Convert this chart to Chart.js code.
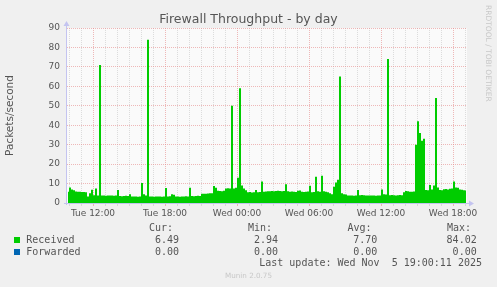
<!DOCTYPE html>
<html>
<head>
<meta charset="utf-8">
<script src="https://cdn.jsdelivr.net/npm/chart.js@4.4.1/dist/chart.umd.min.js"></script>
<style>
  html, body { margin: 0; padding: 0; background: #f0f0f0; }
  #wrap { position: relative; width: 497px; height: 287px; overflow: hidden; }
  #title { position: absolute; left: 0; top: 11px; width: 497px; text-align: center; font-family: "DejaVu Sans", sans-serif; font-size: 12.5px; line-height: 15px; color: #555; }
  .t { position: absolute; white-space: pre; color: #555; font-family: "DejaVu Sans Mono", monospace; font-size: 10px; line-height: 12px; }
  .sq { position: absolute; width: 6px; height: 6px; }
  #rrd { position: absolute; left: 484px; top: 5px; writing-mode: vertical-rl; font-family: "DejaVu Sans", sans-serif; font-size: 7.5px; color: #c8c8c8; white-space: pre; }
  #munin { position: absolute; left: 0; width: 497px; top: 271px; text-align: center; font-family: "DejaVu Sans", sans-serif; font-size: 7.2px; color: #c8c8c8; }
</style>
</head>
<body>
<div id="wrap">
  <canvas id="fw" width="497" height="287"></canvas>
  <div id="title">Firewall Throughput - by day</div>
  <div id="rrd">RRDTOOL / TOBI OETIKER</div>
  <div id="legend"></div>
  <div id="munin">Munin 2.0.75</div>
</div>
<script>
// packets/second, one value per 10 minutes, starting Tue 09:50
var received = [
  5.8, 8.0, 7.0, 6.5, 5.9, 5.8, 5.8, 5.7, 5.6, 5.5,
  3.3, 5.0, 6.8, 4.0, 7.5, 3.8, 71, 3.9, 3.8, 3.7,
  3.8, 3.9, 3.8, 3.7, 3.8, 6.7, 3.6, 3.5, 3.6, 3.7,
  3.6, 4.5, 3.3, 3.4, 3.3, 3.2, 3.4, 10.3, 4.5, 3.8,
  84.02, 3.4, 3.3, 3.2, 3.3, 3.4, 3.3, 3.2, 3.3, 7.7,
  3.3, 3.5, 4.5, 4.2, 3.4, 3.3, 3.2, 3.4, 3.3, 3.5,
  3.4, 7.9, 3.6, 3.5, 3.6, 3.7, 3.6, 4.7, 4.8, 4.8,
  4.9, 5.0, 5.0, 8.7, 7.8, 6.3, 6.2, 6.0, 6.3, 7.4,
  7.6, 7.5, 50, 7.5, 7.8, 13, 59, 9.0, 7.5, 6.5,
  5.5, 5.6, 5.4, 5.5, 6.7, 5.5, 5.6, 11, 5.8, 5.9,
  6.0, 6.1, 6.2, 6.1, 6.2, 6.3, 6.2, 6.1, 6.2, 9.6,
  6.0, 5.8, 5.9, 5.8, 5.7, 6.3, 6.4, 5.8, 5.7, 5.8,
  5.9, 8.9, 5.5, 5.6, 13.5, 6.0, 5.8, 14, 6.0, 5.8,
  5.5, 5.0, 4.5, 8.4, 10.5, 12, 65, 5.0, 4.5, 4.4,
  3.9, 3.8, 3.8, 3.7, 3.8, 6.7, 4.0, 4.1, 4.0, 3.9,
  3.8, 3.8, 3.9, 3.8, 3.7, 3.8, 3.9, 7.0, 4.5, 4.4,
  74, 4.0, 4.1, 4.0, 3.9, 4.0, 4.1, 4.0, 5.5, 6.2,
  6.0, 5.8, 5.8, 5.9, 30, 42, 36, 32, 33, 6.7,
  6.5, 9.3, 7.0, 9.0, 54, 8.0, 6.7, 6.6, 7.1, 7.2,
  7.0, 7.3, 7.5, 11, 8.0, 7.9, 7.0, 6.8, 6.6, 6.49
];
var startHour = 9 + 50 / 60;   // hours after Tue 00:00
var stepHours = 10 / 60;

var xTickHours = [12, 18, 24, 30, 36, 42];
var xTickLabels = ['Tue 12:00', 'Tue 18:00', 'Wed 00:00', 'Wed 06:00', 'Wed 12:00', 'Wed 18:00'];
var yMax = 90;

var legendRows = [
  { name: 'Received', color: '#00cc00', cur: '6.49', min: '2.94', avg: '7.70', max: '84.02' },
  { name: 'Forwarded', color: '#0066b3', cur: '0.00', min: '0.00', avg: '0.00', max: '0.00' }
];
var lastUpdate = 'Last update: Wed Nov  5 19:00:11 2025';

var points = received.map(function (v, i) {
  return { x: startHour + (i + 0.5) * stepHours, y: v };
});
var endHour = startHour + received.length * stepHours;

var MAJOR = 'rgba(230,140,140,0.6)';
var MINOR = 'rgba(190,190,190,0.5)';
var AXIS = '#c4c4f0';

// plot background + axis lines with arrows, munin style
var munin = {
  id: 'munin',
  beforeDraw: function (chart) {
    var a = chart.chartArea, c = chart.ctx;
    c.save();
    c.fillStyle = '#fafafa';
    c.fillRect(a.left, a.top, a.right - a.left, a.bottom - a.top);
    c.restore();
  },
  afterDatasetsDraw: function (chart) {
    var a = chart.chartArea, c = chart.ctx;
    c.save();
    c.strokeStyle = AXIS;
    c.fillStyle = AXIS;
    c.lineWidth = 1;
    c.beginPath();
    c.moveTo(a.left - 0.5, a.bottom + 2);
    c.lineTo(a.left - 0.5, a.top - 3);
    c.moveTo(a.left - 3, a.bottom + 0.5);
    c.lineTo(a.right + 3, a.bottom + 0.5);
    c.stroke();
    c.beginPath();
    c.moveTo(a.left - 3.5, a.top - 2);
    c.lineTo(a.left + 2.5, a.top - 2);
    c.lineTo(a.left - 0.5, a.top - 7);
    c.closePath();
    c.fill();
    c.beginPath();
    c.moveTo(a.right + 2, a.bottom - 2.5);
    c.lineTo(a.right + 2, a.bottom + 3.5);
    c.lineTo(a.right + 7, a.bottom + 0.5);
    c.closePath();
    c.fill();
    c.restore();
  }
};

new Chart(document.getElementById('fw'), {
  type: 'line',
  data: {
    datasets: [{
      label: 'Received',
      data: points,
      borderWidth: 0,
      borderColor: '#00cc00',
      backgroundColor: '#00cc00',
      fill: 'origin',
      stepped: 'middle',
      pointRadius: 0
    }]
  },
  options: {
    responsive: false,
    animation: false,
    devicePixelRatio: 1,
    layout: { padding: { left: 1, right: 30, top: 28, bottom: 64 } },
    plugins: {
      legend: { display: false },
      tooltip: { enabled: false },
      title: { display: false }
    },
    scales: {
      x: {
        type: 'linear',
        min: startHour,
        max: endHour,
        afterBuildTicks: function (s) {
          var t = [];
          for (var h = Math.ceil(startHour); h < endHour; h++) t.push({ value: h });
          s.ticks = t;
        },
        afterFit: function (s) { s.height = 20; },
        border: { display: false, dash: [1, 1] },
        grid: {
          color: function (ctx) { return ctx.tick && ctx.tick.value % 6 === 0 ? MAJOR : MINOR; },
          tickColor: function (ctx) { return ctx.tick && ctx.tick.value % 6 === 0 ? MAJOR : MINOR; },
          tickLength: 3,
          lineWidth: 1
        },
        ticks: {
          autoSkip: false,
          maxRotation: 0,
          padding: 2,
          color: '#555',
          font: { family: 'DejaVu Sans', size: 9 },
          callback: function (v) {
            var k = xTickHours.indexOf(v);
            return k >= 0 ? xTickLabels[k] : '';
          }
        }
      },
      y: {
        min: 0,
        max: yMax,
        afterFit: function (s) { s.width = 66; },
        border: { display: false, dash: [1, 1] },
        grid: {
          drawTicks: false,
          color: function (ctx) {
            if (!ctx.tick || ctx.tick.value === 0) return 'rgba(0,0,0,0)';
            return ctx.tick.value % 10 === 0 ? MAJOR : MINOR;
          }
        },
        ticks: {
          stepSize: 5,
          padding: 7,
          color: '#555',
          font: { family: 'DejaVu Sans', size: 9 },
          callback: function (v) { return v % 10 === 0 ? String(v) : ''; }
        },
        title: {
          display: true,
          text: 'Packets/second',
          color: '#555',
          font: { family: 'DejaVu Sans', size: 10.5 },
          padding: { top: 3, bottom: 0 }
        }
      }
    }
  },
  plugins: [munin]
});

// legend block under the chart
var lg = document.getElementById('legend');
function put(text, x, y, right) {
  var d = document.createElement('div');
  d.className = 't';
  d.textContent = text;
  d.style.top = (y - 6) + 'px';
  if (right) { d.style.right = (497 - x) + 'px'; } else { d.style.left = x + 'px'; }
  lg.appendChild(d);
}
put('Cur:', 173, 227.7, true);
put('Min:', 272, 227.7, true);
put('Avg:', 371.5, 227.7, true);
put('Max:', 471, 227.7, true);
legendRows.forEach(function (r, k) {
  var y = 239.5 + k * 12.2;
  var sq = document.createElement('div');
  sq.className = 'sq';
  sq.style.background = r.color;
  sq.style.left = '14px';
  sq.style.top = (y - 2.5) + 'px';
  lg.appendChild(sq);
  put(r.name, 26.3, y, false);
  put(r.cur, 179, y, true);
  put(r.min, 278, y, true);
  put(r.avg, 377.3, y, true);
  put(r.max, 476.7, y, true);
});
put(lastUpdate, 482, 263.3, true);
</script>
</body>
</html>
